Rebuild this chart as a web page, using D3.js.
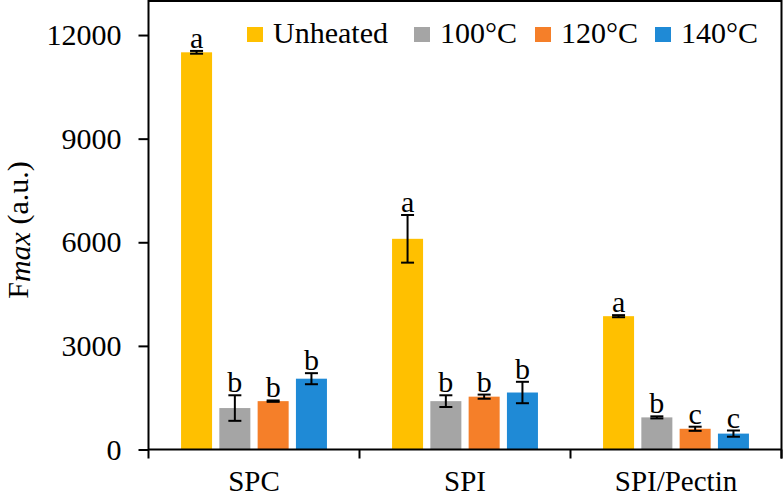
<!DOCTYPE html>
<html><head><meta charset="utf-8">
<script src="https://cdn.jsdelivr.net/npm/d3@7"></script>
<style>body{margin:0;background:#fff}svg{display:block}svg text{font-family:"Liberation Serif","Times New Roman",Tinos,serif !important;fill:#000}</style>
</head><body><svg id="c" width="783" height="499"></svg>
<script>
const categories = ["SPC", "SPI", "SPI/Pectin"];
const series = ["Unheated", "100°C", "120°C", "140°C"];
const colors = ["#FFC000", "#A5A5A5", "#F57F29", "#1F8AD6"];
const values = [
  [11500, 1200, 1400, 2050],
  [6100, 1400, 1530, 1650],
  [3860, 930, 600, 460]
];
const errors = [
  [40, 370, 20, 160],
  [690, 170, 60, 310],
  [30, 30, 60, 90]
];
const letters = [
  ["a", "b", "b", "b"],
  ["a", "b", "b", "b"],
  ["a", "b", "c", "c"]
];
const yTicks = [0, 3000, 6000, 9000, 12000];

const FONT = '"Liberation Serif","Times New Roman",Tinos,serif';
const svg = d3.select("#c");
const L = 148.5, R = 781.5, T = 1, B = 449.5;
const y = d3.scaleLinear().domain([0, 13000]).range([B, 0.5]);
const x0 = d3.scaleBand().domain(categories).range([L, R]).padding(0);
const x1 = d3.scaleBand().domain(series).range([0, x0.bandwidth()]).paddingInner(0.19).paddingOuter(0.85);

// frame top/right
svg.append("line").attr("x1", L).attr("x2", R).attr("y1", T).attr("y2", T).attr("stroke", "#000").attr("stroke-width", 2);
svg.append("line").attr("x1", R).attr("x2", R).attr("y1", 0).attr("y2", B + 9).attr("stroke", "#000").attr("stroke-width", 2);

// bars
const rows = [];
categories.forEach((c, i) => series.forEach((s, j) => rows.push({c, s, j, v: values[i][j], e: errors[i][j], l: letters[i][j]})));
const g = svg.append("g");
g.selectAll("rect").data(rows).join("rect")
  .attr("x", d => x0(d.c) + x1(d.s)).attr("width", x1.bandwidth())
  .attr("y", d => y(d.v)).attr("height", d => y(0) - y(d.v))
  .attr("fill", d => colors[d.j]);

// error bars
const eb = svg.append("g").attr("stroke", "#000").attr("stroke-width", 2);
rows.forEach(d => {
  const cx = x0(d.c) + x1(d.s) + x1.bandwidth() / 2;
  eb.append("line").attr("x1", cx).attr("x2", cx).attr("y1", y(d.v + d.e)).attr("y2", y(d.v - d.e));
  [d.v + d.e, d.v - d.e].forEach(v => eb.append("line").attr("x1", cx - 6.5).attr("x2", cx + 6.5).attr("y1", y(v)).attr("y2", y(v)));
  svg.append("text").attr("x", cx).attr("y", y(d.v + d.e) - 3).attr("text-anchor", "middle")
    .style("font-family", FONT).attr("font-size", 30).text(d.l);
});

// y axis
const ya = svg.append("g").attr("transform", `translate(${L},0)`)
  .call(d3.axisLeft(y).tickValues(yTicks).tickSize(10).tickPadding(17).tickFormat(d3.format("d")));
ya.attr("font-family", null);
ya.select(".domain").remove();
ya.selectAll(".tick line").attr("stroke", "#000").attr("stroke-width", 2);
ya.selectAll("text").attr("font-size", 30).style("font-family", FONT).attr("fill", "#000");
svg.append("line").attr("x1", L).attr("x2", L).attr("y1", 0).attr("y2", B + 9).attr("stroke", "#000").attr("stroke-width", 2);

// x axis
svg.append("line").attr("x1", L).attr("x2", R).attr("y1", B).attr("y2", B).attr("stroke", "#000").attr("stroke-width", 2);
categories.forEach(c => {
  const xe = x0(c) + x0.bandwidth();
  svg.append("line").attr("x1", xe).attr("x2", xe).attr("y1", B).attr("y2", B + 9).attr("stroke", "#000").attr("stroke-width", 2);
  svg.append("text").attr("x", x0(c) + x0.bandwidth() / 2).attr("y", 491).attr("text-anchor", "middle")
    .style("font-family", FONT).attr("font-size", 29).text(c);
});

// y label
const yl = svg.append("text").attr("transform", "translate(28,230) rotate(-90)").attr("text-anchor", "middle")
  .style("font-family", FONT).attr("font-size", 30);
yl.append("tspan").text("F");
yl.append("tspan").attr("font-style", "italic").attr("dy", 2).text("max");
yl.append("tspan").attr("dy", -2).text(" (a.u.)");

// legend
const legX = [247, 414, 535, 655];
const lg = svg.append("g");
series.forEach((s, j) => {
  lg.append("rect").attr("x", legX[j]).attr("y", 27).attr("width", 16).attr("height", 15).attr("fill", colors[j]);
  lg.append("text").attr("x", legX[j] + 26).attr("y", 43).style("font-family", FONT).attr("font-size", 30).text(s);
});
</script></body></html>
